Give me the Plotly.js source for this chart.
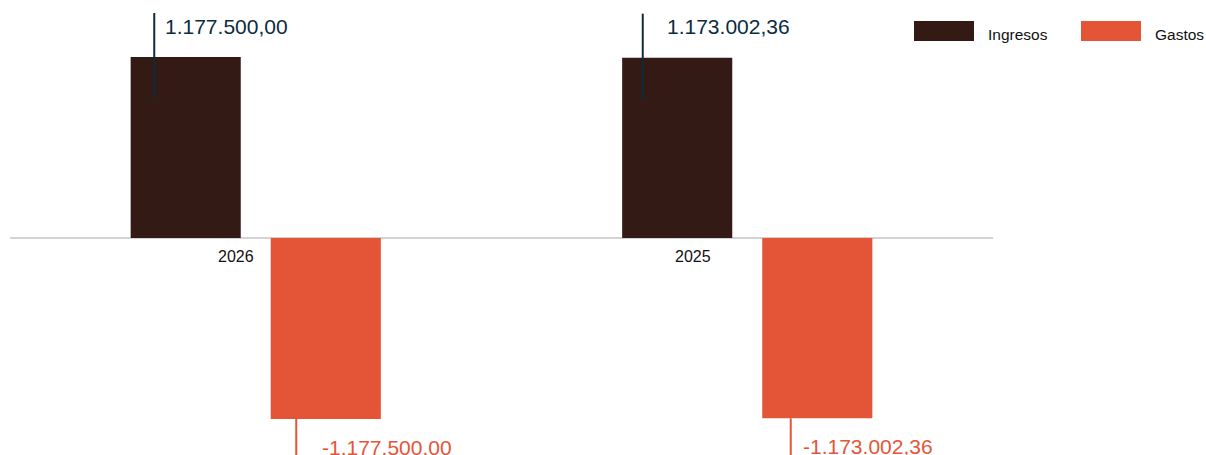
<!DOCTYPE html>
<html>
<head>
<meta charset="utf-8">
<script src="https://cdn.plot.ly/plotly-3.0.1.min.js"></script>
<style>html,body{margin:0;padding:0;background:#fff;}#chart{width:1206px;height:455px;}</style>
</head>
<body>
<div id="chart"></div>
<script>
// ---- data ----
var categories = ['2026', '2025'];
var ingresos = [1177500.00, 1173002.36];
var gastos = [-1177500.00, -1173002.36];
var seriesNames = ['Ingresos', 'Gastos'];

// ---- style ----
var colIng = '#341a14';
var colGas = '#e45537';
var colLabelPos = '#0d2b3e';
var FONT = '"Liberation Sans", Arial, Helvetica, sans-serif';
var W = 1206, H = 455, ML = 10, MR = 213;
var plotW = W - ML - MR;

function fmt(v) {
  var neg = v < 0; v = Math.abs(v);
  var parts = v.toFixed(2).split('.');
  var intp = parts[0].replace(/\B(?=(\d{3})+(?!\d))/g, '.');
  return (neg ? '-' : '') + intp + ',' + parts[1];
}
function px2paperX(p) { return (p - ML) / plotW; }
function px2paperY(p) { return (H - p) / H; }

// per-category pixel offsets (style)
var ingLineShift = [-101.5, -104.5];
var ingTextShift = [-92.5, -82.5];
var gasLineShift = [40.5, 43.5];
var gasTextShift = [64, 54];
var tickShift = [-20, -54];

var traces = [
  {type: 'bar', name: seriesNames[0], x: categories, y: ingresos, marker: {color: colIng}, hoverinfo: 'none', showlegend: false},
  {type: 'bar', name: seriesNames[1], x: categories, y: gastos, marker: {color: colGas}, hoverinfo: 'none', showlegend: false}
];

var annotations = [];
var shapes = [];
categories.forEach(function (c, i) {
  // i = serial number of the category on the category axis
  shapes.push({type: 'line', xref: 'x', yref: 'y', xsizemode: 'pixel', ysizemode: 'pixel',
    xanchor: i, yanchor: ingresos[i], x0: ingLineShift[i], x1: ingLineShift[i], y0: -41, y1: 44,
    line: {color: colLabelPos, width: 2}});
  annotations.push({x: i, y: ingresos[i], xref: 'x', yref: 'y', text: fmt(ingresos[i]), showarrow: false,
    xanchor: 'left', yanchor: 'middle', xshift: ingTextShift[i], yshift: 31,
    font: {family: FONT, size: 21, color: colLabelPos}});
  shapes.push({type: 'line', xref: 'x', yref: 'y', xsizemode: 'pixel', ysizemode: 'pixel',
    xanchor: i, yanchor: gastos[i], x0: gasLineShift[i], x1: gasLineShift[i], y0: 0, y1: -50,
    line: {color: colGas, width: 2}});
  annotations.push({x: i, y: gastos[i], xref: 'x', yref: 'y', text: fmt(gastos[i]), showarrow: false,
    xanchor: 'left', yanchor: 'middle', xshift: gasTextShift[i], yshift: -28,
    font: {family: FONT, size: 21, color: colGas}});
  annotations.push({x: i, y: 0, xref: 'x', yref: 'y', text: c, showarrow: false,
    xanchor: 'center', yanchor: 'middle', xshift: tickShift[i], yshift: -18,
    font: {family: FONT, size: 16, color: '#111111'}});
});

// manual legend
var legendItems = [
  {name: seriesNames[0], color: colIng, x0: 914, x1: 974, tx: 986},
  {name: seriesNames[1], color: colGas, x0: 1081, x1: 1141, tx: 1153}
];
legendItems.forEach(function (it) {
  shapes.push({type: 'rect', xref: 'paper', yref: 'paper', x0: px2paperX(it.x0), x1: px2paperX(it.x1),
    y0: px2paperY(41), y1: px2paperY(21), fillcolor: it.color, line: {width: 0}});
  annotations.push({xref: 'paper', yref: 'paper', x: px2paperX(it.tx), y: px2paperY(35), text: it.name,
    showarrow: false, xanchor: 'left', yanchor: 'middle', font: {family: FONT, size: 15.5, color: '#111111'}});
});

var layout = {
  width: W, height: H,
  margin: {l: ML, r: MR, t: 0, b: 0, pad: 0},
  paper_bgcolor: '#ffffff', plot_bgcolor: '#ffffff',
  barmode: 'group', bargap: 0.43, bargroupgap: 0.214,
  showlegend: false,
  font: {family: FONT},
  xaxis: {type: 'category', range: [-0.5, 1.5], autorange: false, showgrid: false, showline: false, showticklabels: false, ticks: '', zeroline: false, fixedrange: true},
  yaxis: {range: [-1411700, 1548300], autorange: false, showgrid: false, showline: false, showticklabels: false, ticks: '',
    zeroline: true, zerolinecolor: '#d3d3d3', zerolinewidth: 2, fixedrange: true},
  annotations: annotations,
  shapes: shapes
};

Plotly.newPlot('chart', traces, layout, {displayModeBar: false, staticPlot: true});
</script>
</body>
</html>
